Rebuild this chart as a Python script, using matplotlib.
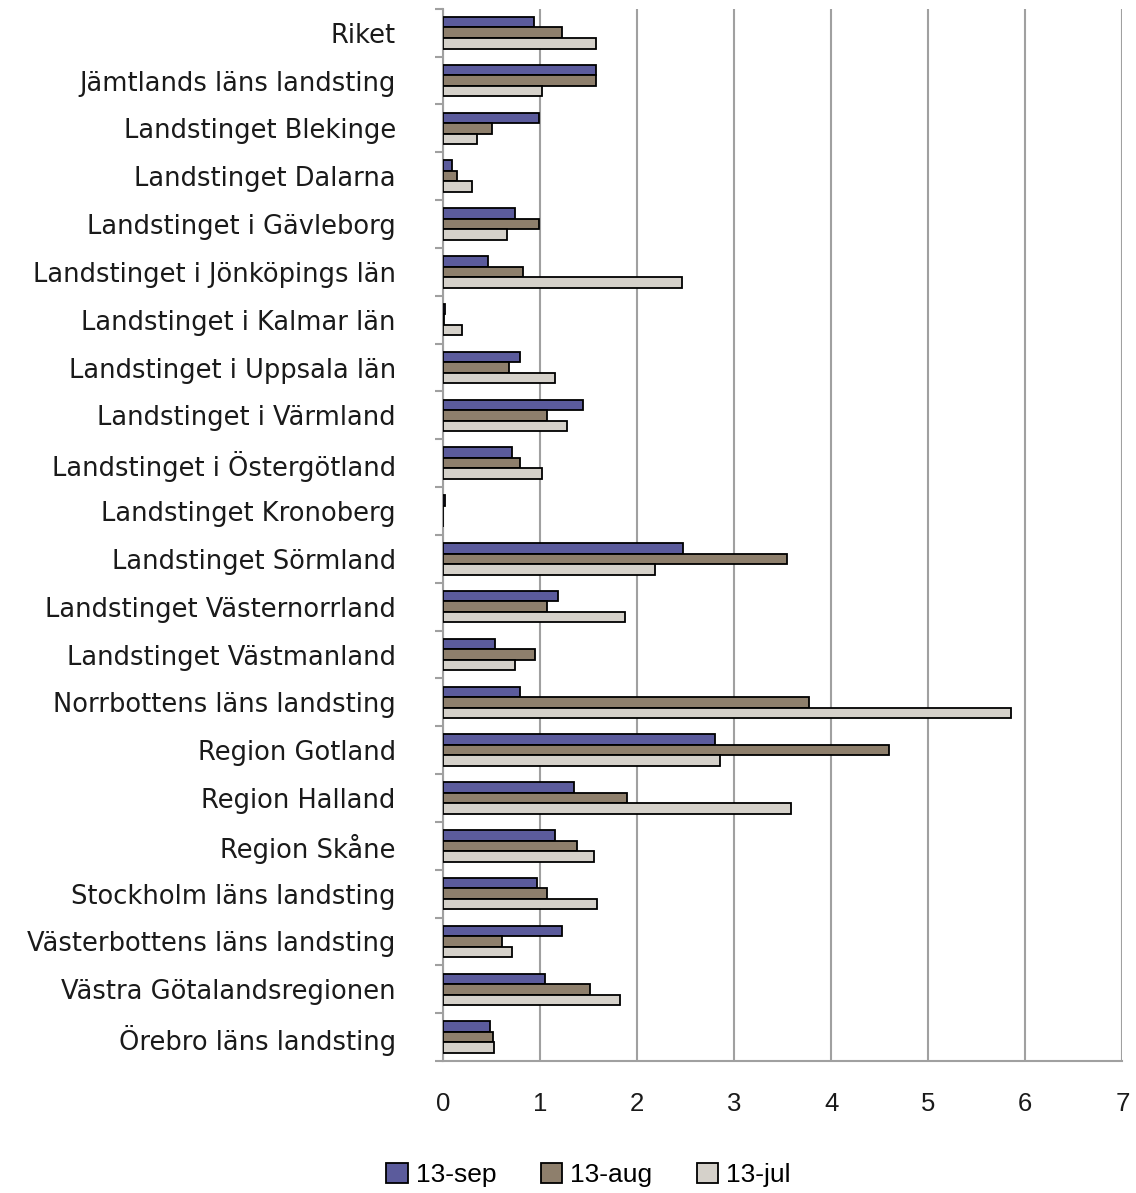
import matplotlib
matplotlib.use('Agg')
import matplotlib.pyplot as plt
import numpy as np

# categories, top to bottom
regions = ['Riket', 'Jämtlands läns landsting', 'Landstinget Blekinge',
           'Landstinget Dalarna', 'Landstinget i Gävleborg',
           'Landstinget i Jönköpings län', 'Landstinget i Kalmar län',
           'Landstinget i Uppsala län', 'Landstinget i Värmland',
           'Landstinget i Östergötland', 'Landstinget Kronoberg',
           'Landstinget Sörmland', 'Landstinget Västernorrland',
           'Landstinget Västmanland', 'Norrbottens läns landsting',
           'Region Gotland', 'Region Halland', 'Region Skåne',
           'Stockholm läns landsting', 'Västerbottens läns landsting',
           'Västra Götalandsregionen', 'Örebro läns landsting']

sep_13 = [0.94, 1.58, 0.99, 0.09, 0.74, 0.46, 0.02, 0.79, 1.44, 0.71, 0.02,
          2.47, 1.18, 0.54, 0.79, 2.80, 1.35, 1.15, 0.97, 1.23, 1.05, 0.48]
aug_13 = [1.23, 1.58, 0.50, 0.14, 0.99, 0.82, 0.01, 0.68, 1.07, 0.79, 0.0,
          3.54, 1.07, 0.95, 3.77, 4.60, 1.90, 1.38, 1.07, 0.61, 1.51, 0.51]
jul_13 = [1.58, 1.02, 0.35, 0.30, 0.66, 2.46, 0.20, 1.15, 1.28, 1.02, 0.0,
          2.18, 1.87, 0.74, 5.85, 2.85, 3.59, 1.56, 1.59, 0.71, 1.82, 0.53]

series_names = ['13-sep', '13-aug', '13-jul']
colors = ['#5b5b9c', '#8e7f6c', '#d5d1ca']

plt.rcParams['font.family'] = ['DejaVu Sans']

fig = plt.figure(figsize=(11.36, 11.93), dpi=100)
ax = fig.add_axes([0.390, 0.1106, 0.598, 0.882])

y = np.arange(len(regions))
bar_h = 0.22
for i, (vals, name, col) in enumerate(zip([sep_13, aug_13, jul_13],
                                          series_names, colors)):
    ax.barh(y + (i - 1) * bar_h, vals, height=bar_h, color=col,
            edgecolor='black', linewidth=1.3, label=name, zorder=3)

ax.set_xlim(0, 7)
ax.set_ylim(len(regions) - 0.5, -0.5)
ax.set_xticks(range(8))
ax.set_yticks(y)
ax.set_yticklabels(regions)
ax.set_yticks(np.arange(len(regions) + 1) - 0.5, minor=True)

ax.grid(axis='x', color='#a0a0a0', linewidth=1.5, zorder=0)
for s in ['top', 'right']:
    ax.spines[s].set_visible(False)
for s in ['left', 'bottom']:
    ax.spines[s].set_color('#a0a0a0')
    ax.spines[s].set_linewidth(1.5)

ax.tick_params(axis='y', which='major', length=0, pad=34, labelsize=18.5,
               labelcolor='#1a1a1a')
ax.tick_params(axis='y', which='minor', length=6, width=1.5, color='#a0a0a0')
ax.tick_params(axis='x', length=0, pad=22, labelcolor='#1a1a1a')
for lab in ax.get_xticklabels():
    lab.set_fontfamily('Liberation Sans')
    lab.set_fontsize(18.5)

fig.legend(loc='center', bbox_to_anchor=(0.518, 0.015), ncol=3, frameon=False,
           prop={'family': 'Liberation Sans', 'size': 19},
           handlelength=0.8, handleheight=0.8,
           handletextpad=0.3, columnspacing=1.7)

fig.savefig('out.png', dpi=100)
